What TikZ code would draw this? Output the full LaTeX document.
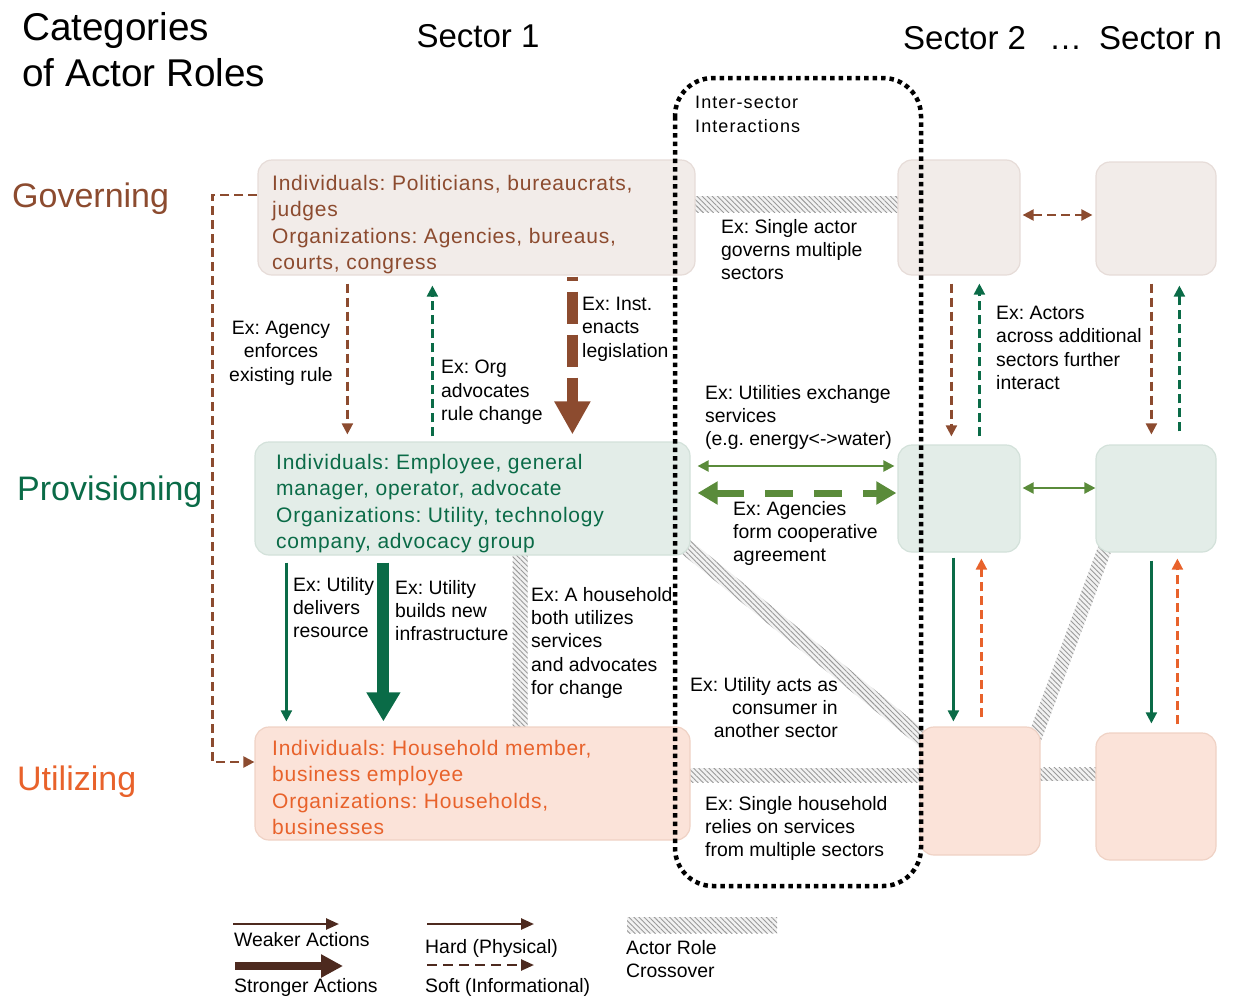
\documentclass[tikz,border=0pt]{standalone}
\usepackage{fontspec}
\setmainfont{Liberation Sans}
\frenchspacing
\usetikzlibrary{arrows.meta,patterns.meta,calc}
\definecolor{gbrown}{HTML}{8C4B2F}
\definecolor{pgreen}{HTML}{0A6B47}
\definecolor{uorange}{HTML}{E8622B}
\definecolor{olive}{HTML}{5A8B3A}
\definecolor{lbrown}{HTML}{4D2A1F}
\definecolor{govfill}{HTML}{F2ECE9}
\definecolor{govline}{HTML}{E6DCD8}
\definecolor{provfill}{HTML}{E3EDE8}
\definecolor{provline}{HTML}{D3E1DA}
\definecolor{utilfill}{HTML}{FBE3D9}
\definecolor{utilline}{HTML}{EFD2C5}
\definecolor{hatchbg}{HTML}{F2F2F2}
\definecolor{hatchln}{HTML}{9A9A9A}
\tikzset{
  box/.style={rounded corners=14pt, line width=1.2pt, inner sep=0pt},
  gbox/.style={box, draw=govline, fill=govfill},
  pbox/.style={box, draw=provline, fill=provfill},
  ubox/.style={box, draw=utilline, fill=utilfill},
  lab/.style={font=\fontsize{19.4}{23.3}\selectfont, inner sep=0pt, align=left, anchor=north west},
  boxtxt/.style={font=\fontsize{21}{26.3}\selectfont\addfontfeature{LetterSpace=3.6}, inner sep=0pt, align=left, anchor=north west},
  rowlab/.style={font=\fontsize{34}{40}\selectfont, inner sep=0pt, anchor=base west},
  ttl/.style={font=\fontsize{33}{40}\selectfont, inner sep=0pt, anchor=base west},
  soft/.style={dash pattern=on 9pt off 5pt, line width=2.2pt},
  hard/.style={line width=2.2pt},
  tipa/.style={-{Triangle[length=11pt,width=11pt]}},
  tipb/.style={{Triangle[length=11pt,width=11pt]}-{Triangle[length=11pt,width=11pt]}},
  band/.style={fill=hatchbg, postaction={pattern={Lines[angle=-45,distance=3.6pt,line width=0.9pt]}, pattern color=hatchln}},
}
\newcommand{\hband}[3]{%
  \path[band] ($(#1)!#3!90:(#2)$) -- ($(#2)!#3!-90:(#1)$) -- ($(#2)!#3!90:(#1)$) -- ($(#1)!#3!-90:(#2)$) -- cycle;}
\begin{document}
\begin{tikzpicture}[x=1pt,y=-1pt]
\useasboundingbox (0,0) rectangle (1233,996);
% ---- hatched bands (drawn under the boxes)
\coordinate (h1a) at (688,204);   \coordinate (h1b) at (905,204);
\coordinate (h2a) at (520,548);   \coordinate (h2b) at (520,734);
\coordinate (h3a) at (675,538);   \coordinate (h3b) at (930,745);
\coordinate (h4a) at (684,775);   \coordinate (h4b) at (926,775);
\coordinate (h5a) at (1034,774);  \coordinate (h5b) at (1102,774);
\coordinate (h6a) at (1108,540);  \coordinate (h6b) at (1032,745);
\hband{h1a}{h1b}{8pt}
\hband{h2a}{h2b}{7.5pt}
\hband{h3a}{h3b}{8pt}
\hband{h4a}{h4b}{7pt}
\hband{h5a}{h5b}{6.5pt}
\hband{h6a}{h6b}{7pt}
% ---- boxes
\node[gbox, minimum width=437pt, minimum height=115pt] (g1) at (476.5,217.5) {};
\node[pbox, minimum width=435pt, minimum height=113pt] (p1) at (472.5,498.5) {};
\node[ubox, minimum width=435pt, minimum height=113pt] (u1) at (472.5,783.5) {};
\node[gbox, minimum width=122pt, minimum height=115pt] (g2) at (959,217.5) {};
\node[gbox, minimum width=120pt, minimum height=113pt] (gn) at (1156,218.5) {};
\node[pbox, minimum width=122pt, minimum height=107pt] (p2) at (959,498.5) {};
\node[pbox, minimum width=120pt, minimum height=107pt] (pn) at (1156,498.5) {};
\node[ubox, minimum width=120pt, minimum height=128pt] (u2) at (980,791) {};
\node[ubox, minimum width=120pt, minimum height=127pt] (un) at (1156,796.5) {};
% ---- box texts
\node[boxtxt, text=gbrown] (g1t) at (272,175) {Individuals: Politicians, bureaucrats,\\judges\\Organizations: Agencies, bureaus,\\courts, congress};
\node[boxtxt, text=pgreen] (p1t) at (276,454) {Individuals: Employee, general\\manager, operator, advocate\\Organizations: Utility, technology\\company, advocacy group};
\node[boxtxt, text=uorange] (u1t) at (272,740) {Individuals: Household member,\\business employee\\Organizations: Households,\\businesses};
% ---- titles
\node[font=\fontsize{38.7}{46}\selectfont, inner sep=0pt, align=left, anchor=north west] (cat) at (22,12) {Categories\\of Actor Roles};
\node[ttl, anchor=base] (s1) at (478,47) {Sector 1};
\node[ttl] (s2) at (903,49) {Sector 2};
\node[ttl] (sd) at (1049,49) {…};
\node[ttl] (sn) at (1099,49) {Sector n};
\node[rowlab, text=gbrown] (rg) at (12,207) {Governing};
\node[rowlab, text=pgreen] (rp) at (17,500) {Provisioning};
\node[rowlab, text=uorange] (ru) at (17,790) {Utilizing};
% ---- arrows sector 1
\draw[soft, gbrown, tipa] ([shift={(0,-22.5)}]g1.west) -- ++(-45,0) |- ([shift={(0,-21.5)}]u1.west);
\draw[soft, gbrown, tipa] ([shift={(90,8)}]g1.south west) -- ([shift={(93,-7)}]p1.north west);
\draw[soft, pgreen, tipa] ([shift={(178,-5)}]p1.north west) -- ([shift={(175,10)}]g1.south west);
\draw[gbrown, line width=11pt, dash pattern=on 32pt off 11pt, dash phase=28pt, -{Triangle[length=33pt,width=34pt]}] ([shift={(315,1)}]g1.south west) -- ([shift={(318,-7)}]p1.north west);
\draw[hard, pgreen, tipa] ([shift={(32,7)}]p1.south west) -- ([shift={(32,-5)}]u1.north west);
\draw[pgreen, line width=12pt, -{Triangle[length=29pt,width=32pt]}] ([shift={(129,7)}]p1.south west) -- ([shift={(129,-5)}]u1.north west);
% ---- inter-sector arrows
\draw[hard, olive, tipb] ([shift={(7,-32.5)}]p1.east) -- ([shift={(-3,-32.5)}]p2.west);
\draw[olive, line width=7pt, dash pattern=on 28pt off 21pt, {Triangle[length=20pt,width=22pt]}-{Triangle[length=20pt,width=22pt]}] ([shift={(7,-5.5)}]p1.east) -- ([shift={(-1,-5.5)}]p2.west);
% ---- sector 2 / n arrows
\draw[soft, gbrown, tipa] ([shift={(54,8)}]g2.south west) -- ([shift={(54,-8)}]p2.north west);
\draw[soft, pgreen, tipa] ([shift={(82,-8)}]p2.north west) -- ([shift={(82,8)}]g2.south west);
\draw[soft, gbrown, tipa] ([shift={(56,8)}]gn.south west) -- ([shift={(56,-10)}]pn.north west);
\draw[soft, pgreen, tipa] ([shift={(84,-13)}]pn.north west) -- ([shift={(84,10)}]gn.south west);
\draw[soft, gbrown, tipb] ([shift={(2,-2.5)}]g2.east) -- ([shift={(-3,-3.5)}]gn.west);
\draw[hard, olive, tipb] ([shift={(2,-10.5)}]p2.east) -- ([shift={(0,-10.5)}]pn.west);
\draw[hard, pgreen, tipa] ([shift={(56,5)}]p2.south west) -- ([shift={(34,-5)}]u2.north west);
\draw[soft, uorange, tipa] ([shift={(62,-9)}]u2.north west) -- ([shift={(84,6)}]p2.south west);
\draw[hard, pgreen, tipa] ([shift={(56,8)}]pn.south west) -- ([shift={(56,-9)}]un.north west);
\draw[soft, uorange, tipa] ([shift={(82,-8)}]un.north west) -- ([shift={(82,6)}]pn.south west);
% ---- dotted inter-sector frame
\draw[line width=4.5pt, dash pattern=on 4.5pt off 4pt, rounded corners=38pt] (675,78) rectangle (921,886);
\node[lab, font=\fontsize{18}{23.5}\selectfont\addfontfeature{LetterSpace=6}] (inter) at (695,96) {Inter-sector\\Interactions};
% ---- labels
\node[lab, align=center, anchor=north] (l1) at (281,321) {Ex: Agency\\enforces\\existing rule};
\node[lab] (l2) at (441,360) {Ex: Org\\advocates\\rule change};
\node[lab] (l3) at (582,297) {Ex: Inst.\\enacts\\legislation};
\node[lab] (l4) at (721,219) {Ex: Single actor\\governs multiple\\sectors};
\node[lab] (l5) at (996,306) {Ex: Actors\\across additional\\sectors further\\interact};
\node[lab] (l6) at (705,385) {Ex: Utilities exchange\\services\\(e.g. energy<->water)};
\node[lab] (l7) at (733,501) {Ex: Agencies\\form cooperative\\agreement};
\node[lab] (l8) at (293,577) {Ex: Utility\\delivers\\resource};
\node[lab] (l9) at (395,580) {Ex: Utility\\builds new\\infrastructure};
\node[lab] (l10) at (531,587) {Ex: A household\\both utilizes\\services\\and advocates\\for change};
\node[lab, align=right, anchor=north east] (l11) at (838,677) {Ex: Utility acts as\\consumer in\\another sector};
\node[lab] (l12) at (705,796) {Ex: Single household\\relies on services\\from multiple sectors};
% ---- legend
\coordinate (lwa) at (233,924); \coordinate (lwb) at (339,924);
\coordinate (lsa) at (235,966); \coordinate (lsb) at (343,966);
\coordinate (lha) at (427,924); \coordinate (lhb) at (534,924);
\coordinate (lfa) at (427,965); \coordinate (lfb) at (534,965);
\draw[lbrown, line width=2.5pt, -{Triangle[length=13pt,width=11pt]}] (lwa) -- (lwb);
\draw[lbrown, line width=8pt, -{Triangle[length=22pt,width=22pt]}] (lsa) -- (lsb);
\draw[lbrown, line width=2.5pt, -{Triangle[length=13pt,width=11pt]}] (lha) -- (lhb);
\draw[lbrown, line width=2.5pt, dash pattern=on 10pt off 6pt, -{Triangle[length=13pt,width=11pt]}] (lfa) -- (lfb);
\path[band] (627,917) rectangle (777,933);
\node[lab] (lg1) at (234,932) {Weaker Actions};
\node[lab] (lg2) at (234,978) {Stronger Actions};
\node[lab] (lg3) at (425,939) {Hard (Physical)};
\node[lab] (lg4) at (425,978) {Soft (Informational)};
\node[lab] (lg5) at (626,940) {Actor Role\\Crossover};
\end{tikzpicture}
\end{document}
